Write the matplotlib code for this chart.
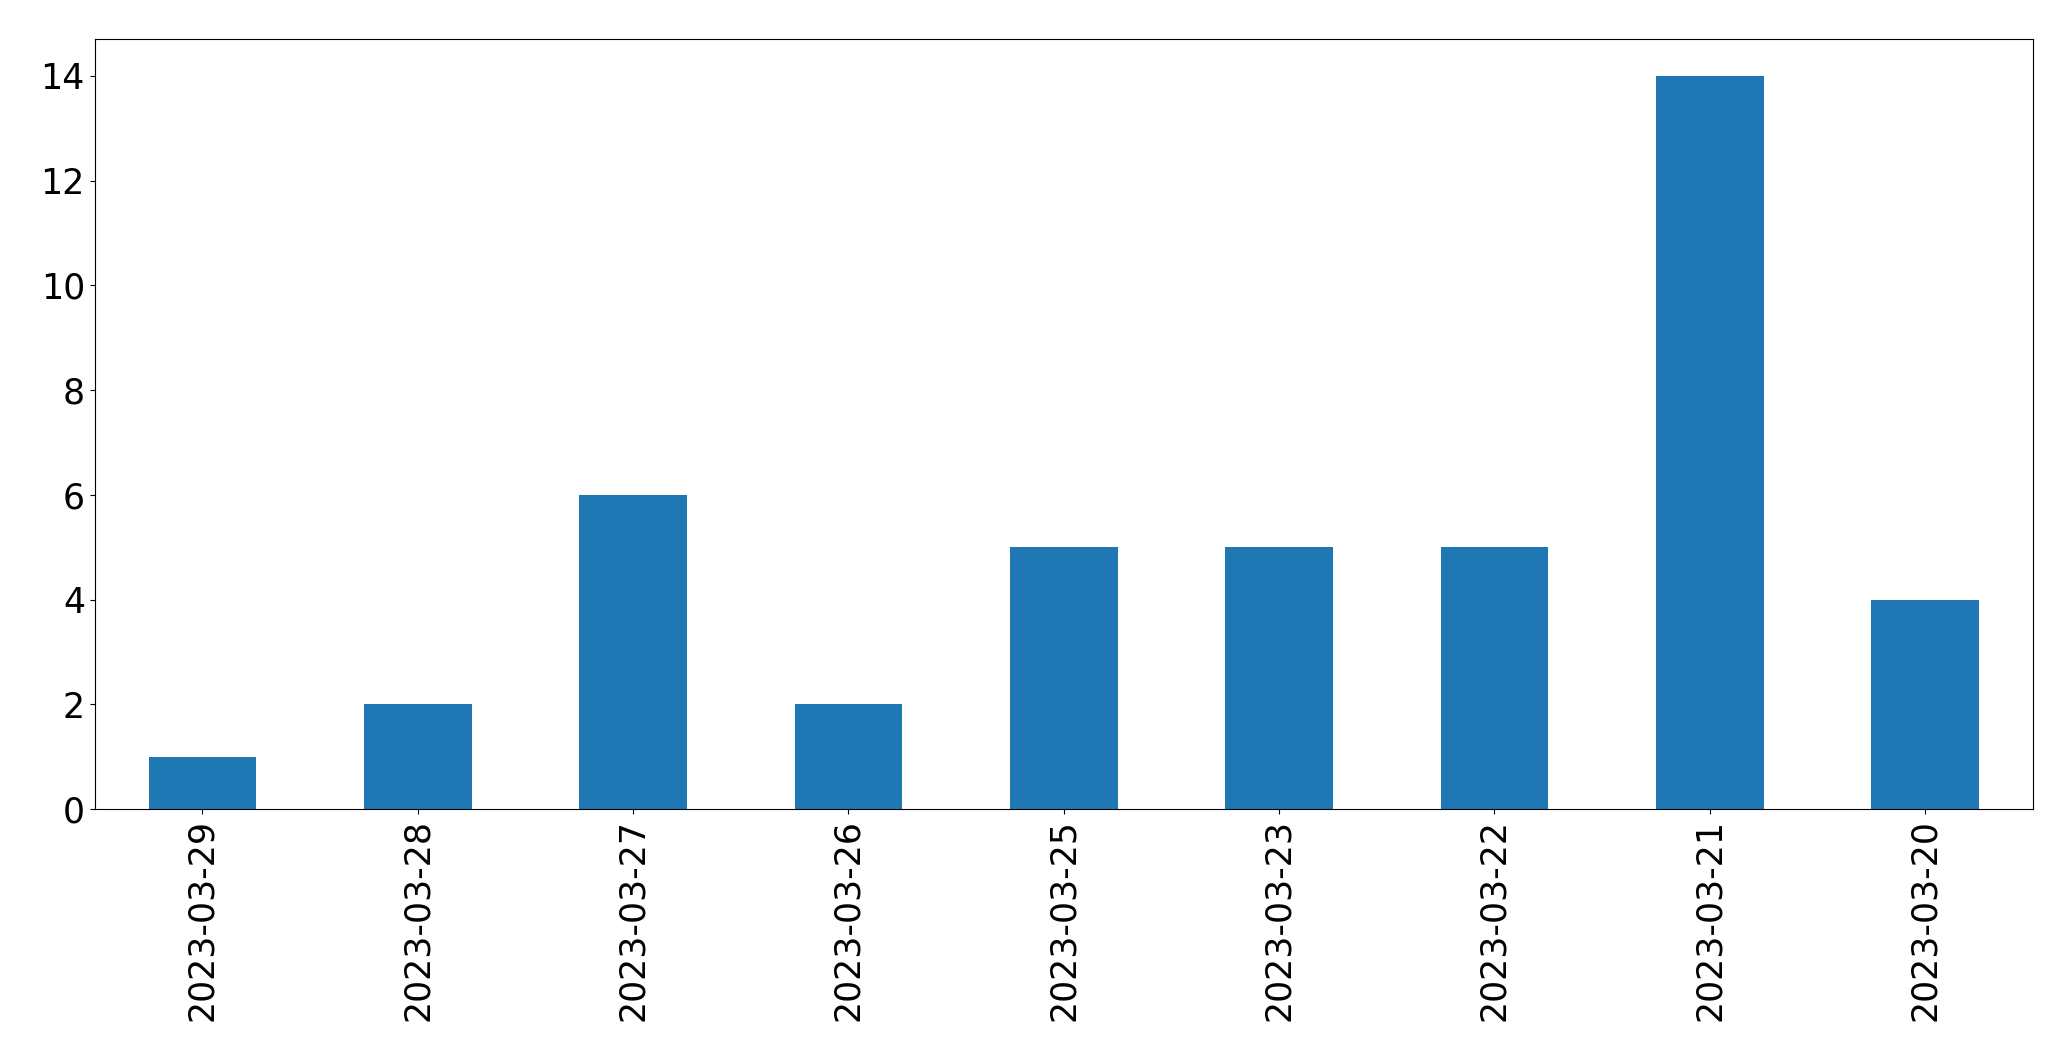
import matplotlib
matplotlib.use("Agg")
import matplotlib.pyplot as plt

# counts per day, in the order shown
dates = ["2023-03-29", "2023-03-28", "2023-03-27", "2023-03-26", "2023-03-25",
         "2023-03-23", "2023-03-22", "2023-03-21", "2023-03-20"]
counts = [1, 2, 6, 2, 5, 5, 5, 14, 4]

fig, ax = plt.subplots(figsize=(20.71, 10.61), dpi=100)
fig.subplots_adjust(left=94.7 / 2071, right=2032.7 / 2071,
                    top=1 - 39.3 / 1061, bottom=1 - 809 / 1061)

x = range(len(dates))
ax.bar(x, counts, width=0.5, color="#1f77b4")
ax.set_xlim(-0.5, len(dates) - 0.5)
ax.set_ylim(0, max(counts) * 1.05)
ax.set_xticks(list(x))
ax.set_xticklabels(dates, rotation=90)
ax.tick_params(axis="both", labelsize=25)

fig.savefig("out.png", dpi=100)
